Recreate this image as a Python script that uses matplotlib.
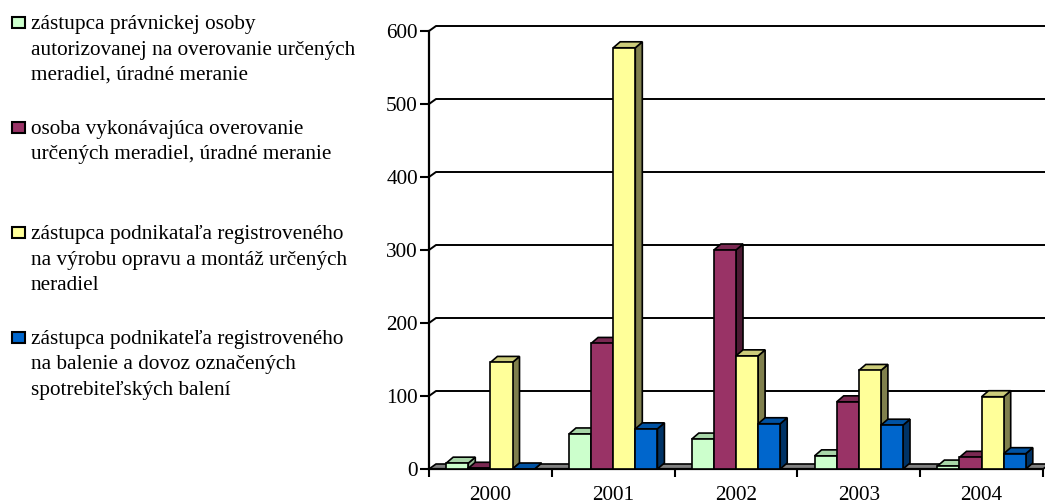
import matplotlib.pyplot as plt
from matplotlib.patches import Polygon, Rectangle

plt.rcParams['font.family'] = ['Liberation Serif', 'DejaVu Serif']

years = ['2000', '2001', '2002', '2003', '2004']
pravnicka = [8, 48, 41, 18, 4]
osoba = [1, 172, 300, 92, 16]
vyroba = [146, 577, 155, 135, 99]
balenie = [0, 55, 62, 60, 21]
yticks = [0, 100, 200, 300, 400, 500, 600]

labels = ['zástupca právnickej osoby\nautorizovanej na overovanie určených\nmeradiel, úradné meranie',
          'osoba vykonávajúca overovanie\nurčených meradiel, úradné meranie',
          'zástupca podnikataľa registroveného\nna výrobu opravu a montáž určených\nneradiel',
          'zástupca podnikateľa registroveného\nna balenie a dovoz označených\nspotrebiteľských balení']
series = [pravnicka, osoba, vyroba, balenie]

face_colors = ['#ccffcc', '#993366', '#ffff99', '#0066cc']
side_colors = ['#8fb38f', '#4d1a33', '#80804d', '#003366']
top_colors = ['#a8d6a8', '#7a2952', '#cccc7a', '#0052a3']

W, H = 1045, 504
fig = plt.figure(figsize=(W / 100, H / 100), dpi=100)
ax = fig.add_axes([429 / W, 35 / H, 614 / W, 438 / H])
ax.set_xlim(0, 5)
ax.set_ylim(0, 600)

# depth offset of the 3D look (data units)
dx = 7 / 122.8
dy = 5 / 0.73
bdx = 7 / 122.8   # bars
bdy = 6 / 0.73

# floor
ax.add_patch(Polygon([(0, 0), (5, 0), (5 + dx, dy), (dx, dy)], closed=True,
                     facecolor='#808080', edgecolor='black', lw=1.2, clip_on=False, zorder=1))
# walls / gridlines
for v in yticks[1:]:
    ax.plot([0, dx, 5 + dx], [v, v + dy, v + dy], color='black', lw=1.4,
            clip_on=False, zorder=1, solid_capstyle='butt')

bw = 0.18
start = 0.14
z = 3
for i in range(len(years)):
    for j, vals in enumerate(series):
        v = vals[i]
        x0 = i + start + j * bw
        ax.add_patch(Polygon([(x0 + bw, 0), (x0 + bw + bdx, bdy), (x0 + bw + bdx, v + bdy), (x0 + bw, v)],
                             closed=True, facecolor=side_colors[j], edgecolor='black', lw=1.2,
                             clip_on=False, zorder=z))
        ax.add_patch(Polygon([(x0, v), (x0 + bw, v), (x0 + bw + bdx, v + bdy), (x0 + bdx, v + bdy)],
                             closed=True, facecolor=top_colors[j], edgecolor='black', lw=1.2,
                             clip_on=False, zorder=z))
        ax.bar(x0, v, width=bw, align='edge', color=face_colors[j], edgecolor='black',
               lw=1.2, zorder=z + 0.5, clip_on=False)
        z += 1

for s in ['top', 'right']:
    ax.spines[s].set_visible(False)
ax.spines['left'].set_linewidth(1.6)
ax.spines['bottom'].set_linewidth(1.6)
ax.spines['left'].set_zorder(100)
ax.spines['bottom'].set_zorder(2)

fs = 15.3
ax.set_yticks(yticks)
ax.set_yticklabels([str(t) for t in yticks], fontsize=fs)
ax.tick_params(axis='y', length=6.5, width=1.5, pad=1.5)
ax.set_xticks(range(6))
ax.set_xticklabels([])
ax.set_xticks([i + 0.5 for i in range(5)], minor=True)
ax.set_xticklabels(years, minor=True, fontsize=fs)
ax.tick_params(axis='x', which='major', length=5.5, width=1.5)
ax.tick_params(axis='x', which='minor', length=0, pad=12)

# legend
for k, (lab, col) in enumerate(zip(labels, face_colors)):
    b = 29 + 105 * k
    fig.add_artist(Rectangle((12 / W, 1 - (b - 1) / H), 13 / W, 11 / H, transform=fig.transFigure,
                             facecolor=col, edgecolor='black', lw=1.5))
    for n, line in enumerate(lab.split('\n')):
        fig.text(31 / W, 1 - (b + 25.5 * n) / H, line, fontsize=fs, va='baseline', ha='left')

fig.savefig('out.png', dpi=100)
